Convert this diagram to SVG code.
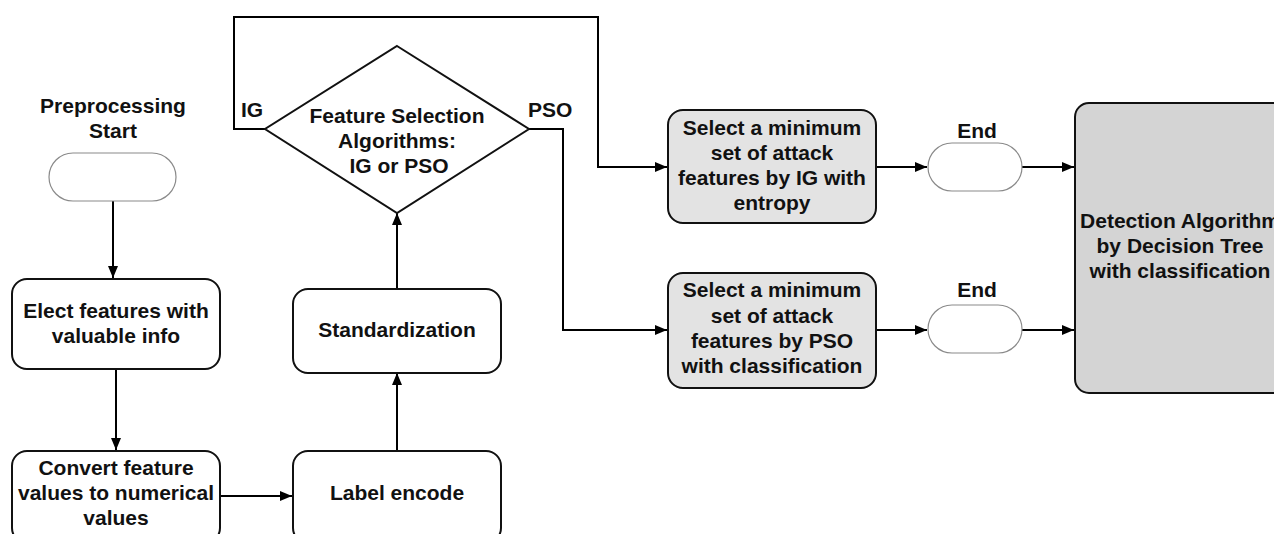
<svg xmlns="http://www.w3.org/2000/svg" width="1274" height="534" viewBox="0 0 1274 534">
<defs>
<marker id="arr" markerUnits="userSpaceOnUse" markerWidth="12" markerHeight="10" refX="12" refY="5" orient="auto">
<path d="M0,0 L12,5 L0,10 Z" fill="#000"/>
</marker>
<style>
.t{font-family:"Liberation Sans",Arial,sans-serif;font-weight:bold;font-size:21px;fill:#111;text-anchor:middle}
.ts{font-family:"Liberation Sans",Arial,sans-serif;font-weight:bold;font-size:21px;fill:#111}
.box{fill:#fff;stroke:#111;stroke-width:2}
.gbox{fill:#e3e3e3;stroke:#111;stroke-width:2}
.term{fill:#fff;stroke:#8a8a8a;stroke-width:1.2}
.c{fill:none;stroke:#000;stroke-width:2;marker-end:url(#arr)}
.cn{fill:none;stroke:#000;stroke-width:2}
</style>
</defs>
<rect width="1274" height="534" fill="#fff"/>
<g id="connectors">
<path class="c" d="M113,201 V278"/>
<path class="c" d="M116,369 V450"/>
<path class="c" d="M220,496 H292"/>
<path class="c" d="M397,451 V373"/>
<path class="c" d="M397,289 V213"/>
<path class="c" d="M265,129 H234 V17 H598 V167 H667"/>
<path class="c" d="M528,129 H563 V330 H667"/>
<path class="c" d="M876,167 H927"/>
<path class="c" d="M876,330 H927"/>
<path class="c" d="M1022,167 H1074"/>
<path class="c" d="M1022,330 H1074"/>
</g>
<g id="start">
<text class="t" x="113" y="113">Preprocessing</text>
<text class="t" x="113" y="138">Start</text>
<rect class="term" x="49" y="153" width="127" height="48" rx="24"/>
</g>
<g id="elect">
<rect class="box" x="12" y="279" width="208" height="90" rx="15"/>
<text class="t" x="116" y="318">Elect features with</text>
<text class="t" x="116" y="343">valuable info</text>
</g>
<g id="convert">
<rect class="box" x="12" y="451" width="208" height="92" rx="15"/>
<text class="t" x="116" y="475">Convert feature</text>
<text class="t" x="116" y="500">values to numerical</text>
<text class="t" x="116" y="525">values</text>
</g>
<g id="label-encode">
<rect class="box" x="293" y="451" width="208" height="92" rx="15"/>
<text class="t" x="397" y="500">Label encode</text>
</g>
<g id="standardization">
<rect class="box" x="293" y="289" width="208" height="84" rx="15"/>
<text class="t" x="397" y="337">Standardization</text>
</g>
<g id="decision">
<polygon points="397,46 529,129 397,213 265,129" fill="#fff" stroke="#111" stroke-width="2"/>
<text class="t" x="397" y="123">Feature Selection</text>
<text class="t" x="397" y="148">Algorithms:</text>
<text class="t" x="399" y="173">IG or PSO</text>
<text class="ts" x="241" y="117">IG</text>
<text class="ts" x="528" y="117">PSO</text>
</g>
<g id="select-ig">
<rect class="gbox" x="668" y="110" width="208" height="113" rx="15"/>
<text class="t" x="772" y="135">Select a minimum</text>
<text class="t" x="772" y="160">set of attack</text>
<text class="t" x="772" y="185">features by IG with</text>
<text class="t" x="772" y="210">entropy</text>
</g>
<g id="select-pso">
<rect class="gbox" x="668" y="273" width="208" height="115" rx="15"/>
<text class="t" x="772" y="297">Select a minimum</text>
<text class="t" x="772" y="323">set of attack</text>
<text class="t" x="772" y="348">features by PSO</text>
<text class="t" x="772" y="373">with classification</text>
</g>
<g id="end-ig">
<text class="t" x="977" y="138">End</text>
<rect class="term" x="928" y="143" width="94" height="48" rx="24"/>
</g>
<g id="end-pso">
<text class="t" x="977" y="297">End</text>
<rect class="term" x="928" y="305" width="94" height="48" rx="24"/>
</g>
<g id="detection">
<rect x="1075" y="103" width="212" height="290" rx="14" fill="#d4d4d4" stroke="#111" stroke-width="2"/>
<text class="t" x="1180" y="228">Detection Algorithm</text>
<text class="t" x="1180" y="253">by Decision Tree</text>
<text class="t" x="1180" y="278">with classification</text>
</g>
</svg>
